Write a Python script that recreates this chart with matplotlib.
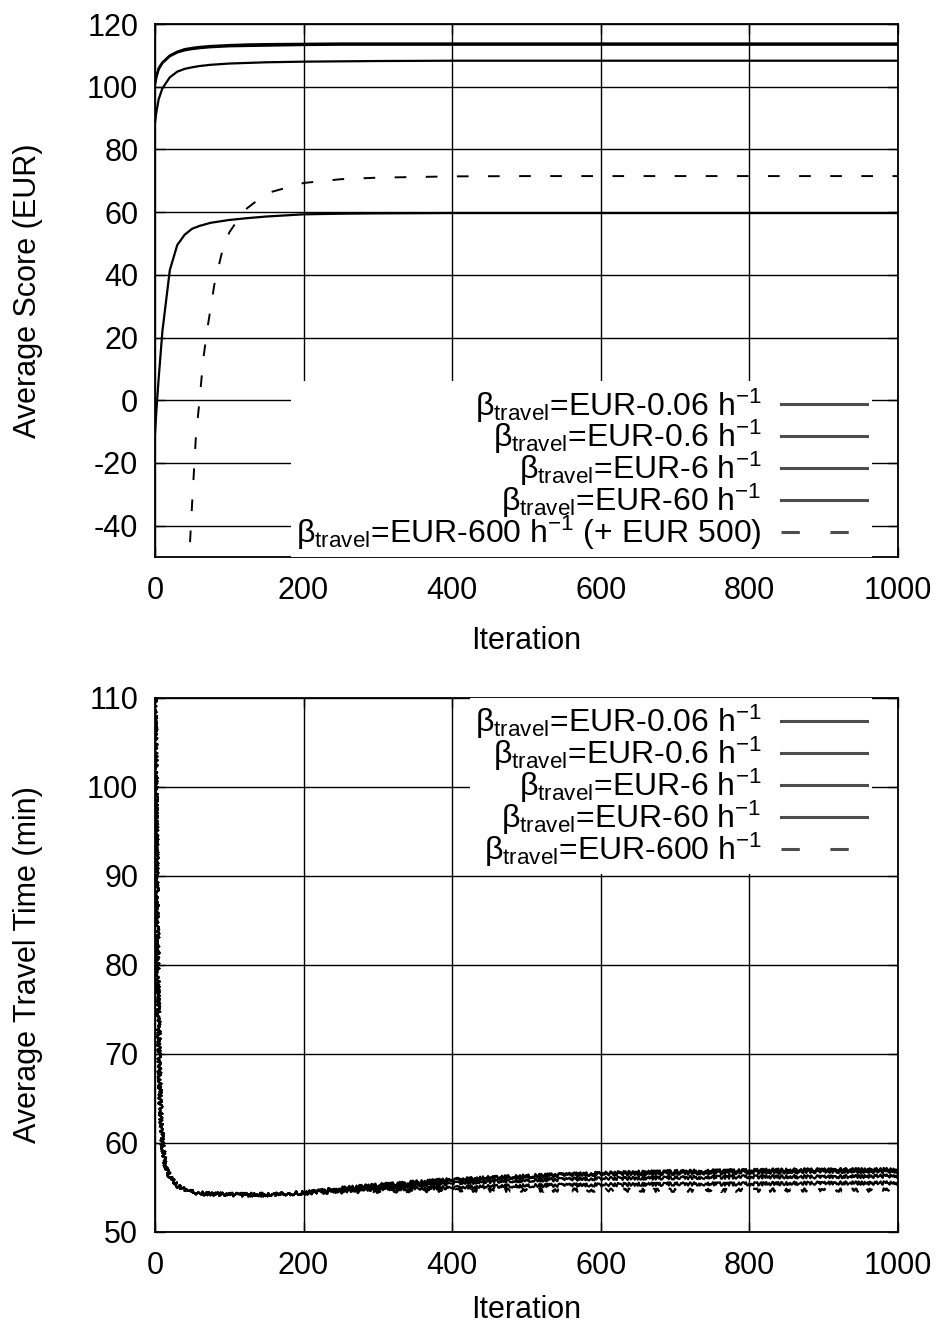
import matplotlib
matplotlib.use("Agg")
import matplotlib.pyplot as plt

plt.rcParams["font.family"] = ["Liberation Sans", "DejaVu Sans"]
plt.rcParams["mathtext.fontset"] = "custom"
plt.rcParams["mathtext.rm"] = "Liberation Sans"
plt.rcParams["mathtext.default"] = "regular"
plt.rcParams["axes.unicode_minus"] = False

# ---- data ----
labels = [
    "β$_{travel}$=EUR-0.06 h$^{-1}$",
    "β$_{travel}$=EUR-0.6 h$^{-1}$",
    "β$_{travel}$=EUR-6 h$^{-1}$",
    "β$_{travel}$=EUR-60 h$^{-1}$",
]
label_600_score = "β$_{travel}$=EUR-600 h$^{-1}$ (+ EUR 500)"
label_600_time = "β$_{travel}$=EUR-600 h$^{-1}$"

# average score (EUR)
iters_score = [0, 2, 5, 10, 20, 30, 40, 50, 60, 75, 100, 125, 150, 200,
               250, 300, 400, 500, 600, 700, 800, 900, 1000]
score_006 = [101.5, 103.5, 106.0, 107.8, 110.0, 111.2, 112.0, 112.4, 112.7, 113.0,
             113.3, 113.5, 113.6, 113.7, 113.8, 113.8, 113.8, 113.8, 113.8, 113.8,
             113.8, 113.8, 113.8]
score_06 = [100.5, 103.0, 105.5, 107.5, 109.7, 110.9, 111.6, 112.0, 112.3, 112.6,
            112.9, 113.0, 113.1, 113.3, 113.4, 113.4, 113.4, 113.4, 113.4, 113.4,
            113.4, 113.4, 113.4]
score_6 = [88.5, 92.0, 96.0, 99.5, 103.0, 104.8, 105.7, 106.2, 106.6, 107.0,
           107.4, 107.6, 107.8, 108.0, 108.1, 108.2, 108.3, 108.3, 108.3, 108.3,
           108.3, 108.3, 108.3]
score_60 = [-11.0, -3.0, 7.0, 22.0, 41.5, 49.5, 52.8, 54.7, 55.6, 56.6,
            57.5, 58.1, 58.6, 59.3, 59.5, 59.6, 59.7, 59.7, 59.7, 59.7,
            59.7, 59.7, 59.7]
iters_600 = [40, 45, 50, 55, 60, 65, 70, 80, 90, 100, 120, 150, 200, 250, 300,
             400, 500, 600, 700, 800, 900, 1000]
score_600 = [-75.0, -55.0, -33.0, -12.0, 0.0, 13.0, 22.0, 37.0, 47.0, 53.5, 60.5,
             66.0, 69.3, 70.5, 71.0, 71.4, 71.5, 71.5, 71.5, 71.5, 71.5, 71.5]

# average travel time (min)
iters_tt = [0, 2, 4, 6, 8, 10, 14, 20, 30, 45, 60, 100, 150, 200,
            250, 300, 400, 500, 600, 700, 800, 900, 1000]
tt_head = [112.0, 95.0, 78.0, 68.0, 63.0, 60.0, 57.5, 56.2, 55.2, 54.6, 54.35,
           54.2, 54.2, 54.4]
tt_006 = tt_head + [54.9, 55.3, 55.9, 56.3, 56.6, 56.8, 56.9, 57.0, 57.0]
tt_06 = tt_head + [54.8, 55.2, 55.8, 56.2, 56.5, 56.6, 56.7, 56.8, 56.8]
tt_6 = tt_head + [54.7, 55.0, 55.5, 55.8, 56.0, 56.1, 56.2, 56.2, 56.3]
tt_60 = tt_head + [54.6, 54.8, 55.0, 55.2, 55.3, 55.4, 55.4, 55.5, 55.5]
tt_600 = tt_head + [54.5, 54.6, 54.7, 54.7, 54.7, 54.7, 54.7, 54.7, 54.7]

FS = 22
LFS = 23
DASH = (0, (6, 10))

fig = plt.figure(figsize=(9.42, 13.28), dpi=100)
ax1 = fig.add_axes([0.1645, 0.5806, 0.7887, 0.4013])
ax2 = fig.add_axes([0.1645, 0.0723, 0.7887, 0.4021])


def style(ax, xpad):
    ax.set_xlim(0, 1000)
    ax.set_xticks(range(0, 1001, 200))
    ax.grid(True, color="black", linewidth=1.0)
    ax.set_axisbelow(True)
    ax.tick_params(direction="in", length=7, width=1, top=True, right=True,
                   labelsize=FS, pad=12)
    ax.tick_params(axis="x", pad=14)
    for s in ax.spines.values():
        s.set_linewidth(1.3)
    ax.set_xlabel("Iteration", fontsize=FS, labelpad=xpad)


def legend(ax, loc, anchor):
    lg = ax.legend(loc=loc, bbox_to_anchor=anchor, fontsize=LFS,
                   markerfirst=False, handlelength=2.7, labelspacing=-0.2,
                   borderpad=0.15, borderaxespad=0.0, framealpha=1.0,
                   fancybox=False, edgecolor="none", handletextpad=0.6)
    for h in lg.legend_handles:
        h.set_sketch_params(None)
        h.set_color("0.3")
        h.set_linewidth(2.2)
    return lg


# top panel
for vals, lab in zip([score_006, score_06, score_6, score_60], labels):
    ax1.plot(iters_score, vals, color="black", lw=1.6, label=lab)
ax1.plot(iters_600, score_600, color="black", lw=1.4, ls=DASH,
         label=label_600_score)
style(ax1, 14)
ax1.set_ylim(-50, 120)
ax1.set_yticks(range(-40, 121, 20))
ax1.set_ylabel("Average Score (EUR)", fontsize=FS, labelpad=32)
legend(ax1, "lower right", (0.965, 0.0))

# bottom panel
for vals, lab in zip([tt_006, tt_06, tt_6, tt_60], labels):
    ln, = ax2.plot(iters_tt, vals, color="black", lw=1.5, label=lab)
    ln.set_sketch_params(scale=1.8, length=2.0, randomness=3.0)
ln, = ax2.plot(iters_tt, tt_600, color="black", lw=1.5, ls=DASH,
               label=label_600_time)
ln.set_sketch_params(scale=1.8, length=2.0, randomness=3.0)
style(ax2, 10)
ax2.set_ylim(50, 110)
ax2.set_yticks(range(50, 111, 10))
ax2.set_ylabel("Average Travel Time (min)", fontsize=FS, labelpad=32)
legend(ax2, "upper right", (0.965, 1.0))

fig.savefig("out.png", dpi=100)
